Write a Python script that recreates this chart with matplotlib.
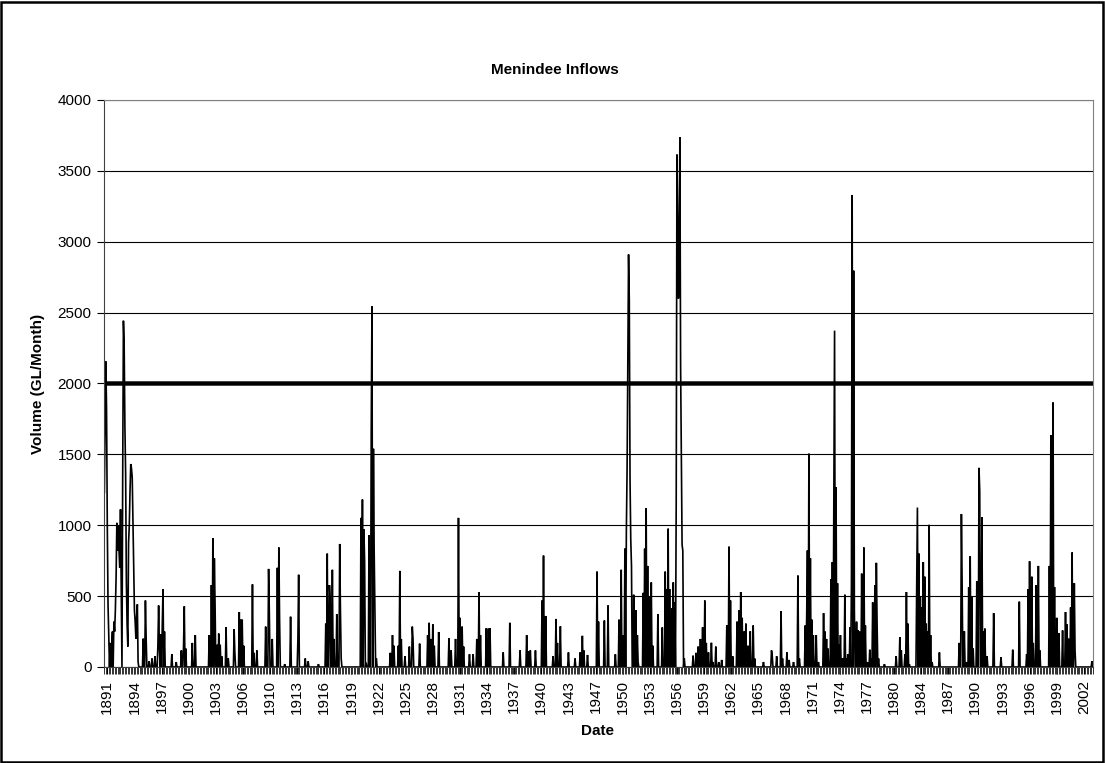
import numpy as np
import matplotlib.pyplot as plt
from matplotlib.patches import Rectangle

plt.rcParams['font.family'] = ['Liberation Sans', 'DejaVu Sans']

# monthly inflow readings (category index from start of record, GL/month)
# months not listed were read as ~0
event_month = [
    0, 1, 2, 3, 4, 5, 6, 8, 10, 11, 13, 14, 15, 16, 17, 18, 19, 20, 21, 22, 23,
    25, 26, 27, 28, 29, 30, 31, 32, 33, 34, 35, 36, 37, 38, 39, 40, 41, 42, 43,
    44, 45, 46, 53, 56, 57, 61, 65, 69, 73, 74, 75, 77, 79, 80, 82, 92, 98,
    105, 108, 109, 111, 120, 124, 143, 146, 148, 150, 151, 154, 156, 158, 160,
    166, 169, 177, 178, 184, 186, 188, 190, 202, 204, 208, 220, 224, 225, 229,
    236, 238, 239, 246, 254,
    264, 265, 274, 278, 292, 302, 304, 307, 308, 311, 313, 317, 321, 322, 323,
    350, 352, 354, 355, 357, 361, 364, 365, 367, 368, 369, 371, 390, 393, 395,
    401, 403, 405, 410, 416, 420, 421, 430, 441, 443, 445, 448, 450, 456, 470,
    473, 479, 483, 485, 488, 490, 498, 503, 508, 511, 513,
    521, 524, 526, 544, 553, 567, 576, 579, 581, 588, 597, 599, 602, 612, 616,
    618, 622, 633, 642, 649, 652, 654, 659, 672, 674, 682, 687, 697, 702, 705,
    707, 710, 712, 713, 714, 715, 716, 717, 718, 719, 722, 725, 727, 728, 735,
    737, 739, 741, 743, 746, 748, 755, 761, 765, 767, 769, 771, 774, 776, 778,
    780, 781, 782, 783, 784, 785, 786, 787, 788, 789, 791,
    803, 807, 810, 813, 816, 819, 821, 824, 828, 830, 834, 838, 842, 849, 852,
    854, 857, 863, 866, 868, 870, 873, 875, 878, 881, 885, 887, 899, 910, 911,
    917, 923, 925, 931, 934, 940, 946, 948, 956, 958, 959, 961, 963, 965, 967,
    971, 974, 981, 983, 985, 987, 991, 993, 995, 996, 998, 1000, 1002, 1004,
    1007, 1010, 1012, 1014, 1017, 1019, 1020, 1022, 1023, 1026, 1028, 1030,
    1033, 1036, 1038, 1041, 1044, 1046, 1048, 1051, 1053, 1054, 1056, 1064,
    1080, 1085, 1087, 1092, 1094, 1096, 1098, 1108, 1109, 1111, 1113, 1115,
    1117, 1119, 1121, 1123, 1125, 1127, 1129, 1139, 1166, 1169, 1170, 1173,
    1176, 1179, 1181, 1183, 1185, 1190, 1193, 1194, 1197, 1199, 1201, 1204,
    1213, 1223, 1239, 1248, 1258, 1260, 1262, 1265, 1267, 1271, 1274, 1276,
    1289, 1291, 1294, 1296, 1299, 1302, 1307, 1311, 1313, 1315, 1318, 1320,
    1323, 1324, 1347,
]
event_volume = [
    1230, 1690, 2156, 1810, 1000, 440, 225, 170, 150, 250, 320, 250, 400, 632,
    1017, 820, 1000, 820, 700, 1112, 550,
    1350, 2443, 2272, 1700, 1364, 605, 300, 144, 876, 1000, 1242, 1432, 1400,
    1337, 1039, 700, 401, 320, 200,
    350, 442, 35, 200, 469, 200, 40, 60, 76, 150, 434, 150, 230, 300, 550, 250,
    90, 35,
    117, 150, 428, 130, 170, 225, 225, 578, 908, 767, 442, 157, 236, 157, 76,
    280, 60, 266, 100, 388, 334, 334, 150, 583, 100, 117, 285, 692, 388, 198,
    700, 843, 334, 20, 355,
    200, 651, 60, 40, 20, 306, 800, 578, 469, 686, 198, 374, 868, 401, 60,
    1052, 1182, 971, 740, 30, 930, 1662, 2544, 1540, 822, 415, 60, 100, 225,
    150,
    150, 678, 198, 76, 144, 285, 198, 165, 225, 312, 198, 301, 150, 247, 203,
    117, 198, 1052, 347, 285, 144, 90, 90, 198, 529, 225,
    274, 271, 274, 103, 312, 117, 225, 110, 117, 117, 469, 786, 360, 76, 339,
    170, 287, 103, 60, 103, 220, 117, 85, 673, 320, 328, 434, 90, 334, 686,
    225, 835, 957, 1400, 2137, 2910, 2590, 1323, 900, 713, 510, 401, 225, 35,
    523,
    835, 1120, 713, 496, 597, 150, 374, 279, 673, 550, 976, 550, 415, 597, 456,
    1161, 3615, 3181, 2600, 2900, 3737, 2123, 1500, 862, 822, 60,
    80, 100, 144, 198, 280, 469, 170, 103, 171, 35, 144, 35, 50, 293, 849,
    469, 76, 320, 401, 529, 347, 252, 306, 150, 252, 293, 60, 35, 117, 76,
    76, 393, 60, 103, 50, 35, 645, 60, 293, 374, 822, 1505, 767, 334, 225,
    225, 35, 380, 250, 198, 130, 618, 740, 1280, 2373, 1269, 591, 157, 225,
    60, 510, 60, 90, 279, 578, 3330, 2796, 401, 320, 258, 250,
    659, 843, 293, 35, 122, 60, 456, 578, 735, 306, 60, 20,
    76, 211, 117, 90, 529, 306, 20, 537, 1125, 800, 496, 420,
    740, 637, 306, 252, 1003, 225, 35, 103, 170, 1079, 578, 252,
    35, 564, 781, 496, 130, 605, 1405, 1242, 1058, 252, 271, 76,
    380, 68, 122, 461, 90, 550, 746, 637, 170, 578, 713, 117,
    713, 1635, 1866, 564, 347, 240, 258, 388, 300, 200, 420, 808,
    591, 117, 40,
]
n_months = 1349
first_label = 4
label_step = 37
year_labels = ['1891', '1894', '1897', '1900', '1903', '1906', '1910', '1913',
               '1916', '1919', '1922', '1925', '1928', '1931', '1934', '1937',
               '1940', '1943', '1947', '1950', '1953', '1956', '1959', '1962',
               '1965', '1968', '1971', '1974', '1977', '1980', '1984', '1987',
               '1990', '1993', '1996', '1999', '2002']
threshold = 2000

volume = np.zeros(n_months)
volume[event_month] = event_volume
months = np.arange(n_months)

fig = plt.figure(figsize=(11.05, 7.63), dpi=100)
fig.patches.append(Rectangle((0.001, 0.001), 0.997, 0.997, transform=fig.transFigure,
                             fill=False, ec='black', lw=1.8))
ax = fig.add_axes([104/1105, 1 - 667/763, 989/1105, 567/763])

ax.plot(months, volume, color='black', lw=1.2, solid_joinstyle='miter')
ax.plot(months, [threshold] * n_months, color='black', lw=3.2)

ax.set_xlim(-0.5, n_months - 0.5)
ax.set_ylim(0, 4000)
ax.set_yticks(range(0, 4001, 500))
ax.set_xticks([first_label + label_step * i for i in range(len(year_labels))])
ax.set_xticklabels(year_labels, rotation=90)
ax.set_xticks(np.arange(0, n_months, 2), minor=True)
ax.tick_params(axis='x', which='major', length=5, width=0.8, labelsize=11, pad=4)
ax.tick_params(axis='x', which='minor', length=5, width=0.7, color='#303030')
ax.tick_params(axis='y', length=5, width=0.8, labelsize=11, pad=4)
ax.grid(axis='y', color='black', lw=0.8)
ax.set_axisbelow(True)
for side in ['top', 'right']:
    ax.spines[side].set_color('#808080')
for side in ['left', 'bottom']:
    ax.spines[side].set_color('#404040')

fig.text(555/1105, 1 - 70/763, 'Menindee Inflows', ha='center', va='center',
         fontsize=11, fontweight='bold')
fig.text(598/1105, 1 - 731/763, 'Date', ha='center', va='center',
         fontsize=11, fontweight='bold')
fig.text(38/1105, 1 - 384/763, 'Volume (GL/Month)', ha='center', va='center',
         rotation=90, fontsize=11, fontweight='bold')

fig.savefig('out.png', dpi=100)
